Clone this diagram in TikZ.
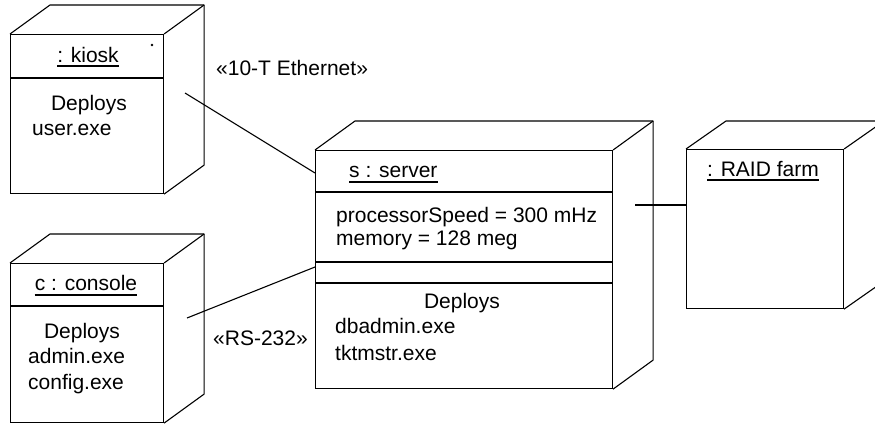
\documentclass[tikz,border=0pt]{standalone}
\usepackage{fontspec}
\setmainfont{Liberation Sans}
\newcommand\drawcube[3]{%
  \draw[edge3d] (#1.north west) -- ++(#2,#3) -- ([shift={(#2,#3)}]#1.north east)
     -- ([shift={(#2,#3)}]#1.south east) -- (#1.south east);
  \draw[edge3d] (#1.north east) -- ++(#2,#3);}
\newcommand\sepline[2]{%
  \draw[edge3d] ([yshift=-#2pt]#1.north west) -- ([yshift=-#2pt]#1.north east);}
\begin{document}
\begin{tikzpicture}[x=1pt,y=-1pt,
  nodebox/.style={draw, line width=1.1pt, inner sep=0pt, anchor=north west},
  edge3d/.style={line width=1.1pt, line join=round},
  txt/.style={inner sep=0pt, font=\fontsize{21}{25}\selectfont},
  conn/.style={line width=1.1pt},
  uline/.style={line width=1.1pt}]
\clip (0,0) rectangle (875,423);
\fill[white] (0,0) rectangle (875,423);

% kiosk
\node[nodebox, minimum width=153pt, minimum height=159pt] (kiosk) at (10,34) {};
\drawcube{kiosk}{40}{-29}
\sepline{kiosk}{44}
\node[txt, anchor=base] (kt) at (88,62) {: kiosk};
\draw[uline] ([yshift=-4pt]kt.base west) -- ([yshift=-4pt]kt.base east);
\node[txt, anchor=base] (kd) at (89,110) {Deploys};
\node[txt, anchor=base west] (ku) at (32,135) {user.exe};
\fill (152,45) circle (1.4);

% console
\node[nodebox, minimum width=153pt, minimum height=159pt] (console) at (10,263) {};
\drawcube{console}{40}{-29}
\sepline{console}{43}
\node[txt, anchor=base] (ct) at (86,290) {c : console};
\draw[uline] ([yshift=-5pt]ct.base west) -- ([yshift=-5pt]ct.base east);
\node[txt, anchor=base] (cd) at (82,338) {Deploys};
\node[txt, anchor=base west] (ca) at (28,363) {admin.exe};
\node[txt, anchor=base west] (cc) at (28,389) {config.exe};

% server
\node[nodebox, minimum width=297pt, minimum height=238pt] (server) at (315,150) {};
\drawcube{server}{40}{-29}
\sepline{server}{42}
\sepline{server}{112}
\sepline{server}{133}
\node[txt, anchor=base west] (st) at (349,177) {s : server};
\draw[uline] ([yshift=-5pt]st.base west) -- ([yshift=-5pt]st.base east);
\node[txt, anchor=base west] (sp) at (336,222) {processorSpeed = 300 mHz};
\node[txt, anchor=base west] (sm) at (336,245) {memory = 128 meg};
\node[txt, anchor=base] (sd) at (462,308) {Deploys};
\node[txt, anchor=base west] (sb) at (335,333) {dbadmin.exe};
\node[txt, anchor=base west] (sk) at (335,360) {tktmstr.exe};

% RAID farm
\node[nodebox, minimum width=157pt, minimum height=159pt] (raid) at (686,149) {};
\drawcube{raid}{40}{-28}
\node[txt, anchor=base west] (rt) at (707,176) {: RAID farm};
\draw[uline] ([yshift=-4pt]rt.base west) -- ([yshift=-4pt]rt.base east);

% connectors
\coordinate (kEnd) at (185,93);
\coordinate (sK) at (315,173);
\coordinate (cEnd) at (187,318);
\coordinate (sC) at (315,267);
\coordinate (sR) at (635,205);
\coordinate (rS) at (686,205);
\draw[conn] (kEnd) -- (sK);
\draw[conn] (cEnd) -- (sC);
\draw[conn] (sR) -- (rS);
\node[txt, anchor=base west] (le) at (216,75) {«10-T Ethernet»};
\node[txt, anchor=base west] (lr) at (213,345) {«RS-232»};
\end{tikzpicture}
\end{document}
